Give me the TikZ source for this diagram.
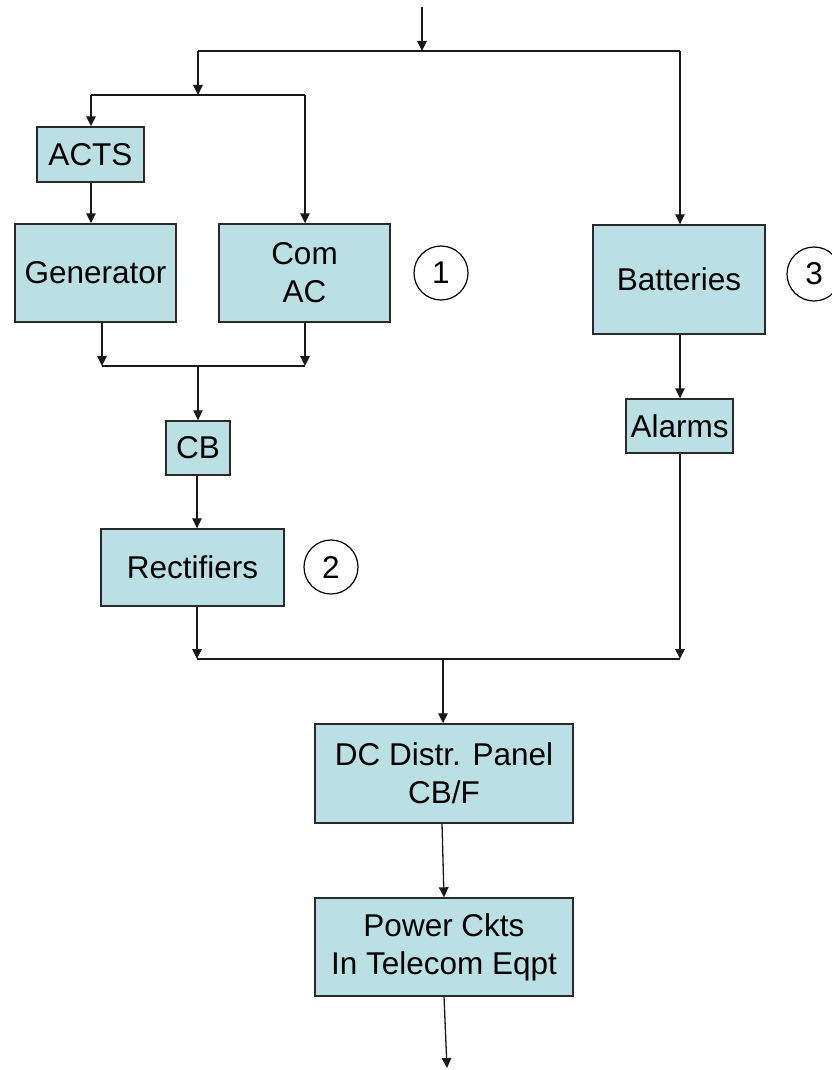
\documentclass[tikz,border=0pt]{standalone}
\usepackage{fontspec}
\setmainfont{Liberation Sans}
\usetikzlibrary{arrows.meta}
\definecolor{boxfill}{HTML}{BBE0E3}
\definecolor{boxline}{HTML}{2A2A2A}
\tikzset{
  blk/.style={draw=boxline, line width=1.4pt, fill=boxfill, inner sep=0pt, align=center,
    font=\fontsize{31.5}{38}\selectfont},
  num/.style={draw=black, line width=1.2pt, circle, minimum size=54pt, inner sep=0pt,
    font=\fontsize{31.5}{38}\selectfont},
  wire/.style={draw=black!90, line width=1.3pt},
  arr/.style={wire, -{Triangle[length=10pt,width=9.5pt]}},
}
\begin{document}
\begin{tikzpicture}[x=1pt,y=-1pt]
\useasboundingbox (0,0) rectangle (831,1070);
% boxes
\node[blk, minimum width=107pt, minimum height=55pt] (acts) at (90.5,154.5) {ACTS};
\node[blk, minimum width=161pt, minimum height=98pt] (gen) at (95.5,273) {Generator};
\node[blk, minimum width=171pt, minimum height=98pt] (com) at (304.5,273) {Com\\AC};
\node[blk, minimum width=172pt, minimum height=109pt] (bat) at (679,279.5) {Batteries};
\node[blk, minimum width=107pt, minimum height=54pt] (alm) at (679.5,426) {Alarms};
\node[blk, minimum width=64pt, minimum height=54pt] (cb) at (198,448) {CB};
\node[blk, minimum width=183pt, minimum height=77pt] (rect) at (192.5,567.5) {Rectifiers};
\node[blk, minimum width=258pt, minimum height=99pt] (dc) at (444,773.5) {DC Distr. Panel\\CB/F};
\node[blk, minimum width=258pt, minimum height=98pt] (pwr) at (444,947) {Power Ckts\\In Telecom Eqpt};
% numbered circles
\node[num] (n1) at (441,273) {1};
\node[num] (n2) at (331,567) {2};
\node[num] (n3) at (814,274) {3};
% junction coordinates
\coordinate (in) at (422,7);
\coordinate (ja) at (422,51);
\coordinate (jaL) at (198,51);
\coordinate (jaR) at (680,51);
\coordinate (jb) at (198,95);
\coordinate (jbL) at (91,95);
\coordinate (jbR) at (305,95);
\coordinate (jc) at (198,366);
\coordinate (jcL) at (102,366);
\coordinate (jcR) at (305,366);
\coordinate (jd) at (443,659);
\coordinate (jdL) at (197,659);
\coordinate (jdR) at (680,659);
\coordinate (out) at (447,1068);
% connectors
\draw[arr] (in) -- (ja);
\draw[wire] (jaL) -- (jaR);
\draw[arr] (jaL) -- (jb);
\draw[arr] (jaR) -- (jaR |- bat.north);
\draw[wire] (jbL) -- (jbR);
\draw[arr] (jbL) -- (jbL |- acts.north);
\draw[arr] (jbR) -- (jbR |- com.north);
\draw[arr] (acts.south -| jbL) -- (jbL |- gen.north);
\draw[arr] (gen.south -| jcL) -- (jcL);
\draw[arr] (com.south -| jcR) -- (jcR);
\draw[wire] (jcL) -- (jcR);
\draw[arr] (jc) -- (jc |- cb.north);
\draw[arr] (cb.south -| jdL) -- (jdL |- rect.north);
\draw[arr] (rect.south -| jdL) -- (jdL);
\draw[arr] (bat.south -| jdR) -- (jdR |- alm.north);
\draw[arr] (alm.south -| jdR) -- (jdR);
\draw[wire] (jdL) -- (jdR);
\draw[arr] (jd) -- (jd |- dc.north);
\draw[arr] ([xshift=-2pt]dc.south) -- (pwr.north);
\draw[arr] (pwr.south) -- (out);
\end{tikzpicture}
\end{document}
